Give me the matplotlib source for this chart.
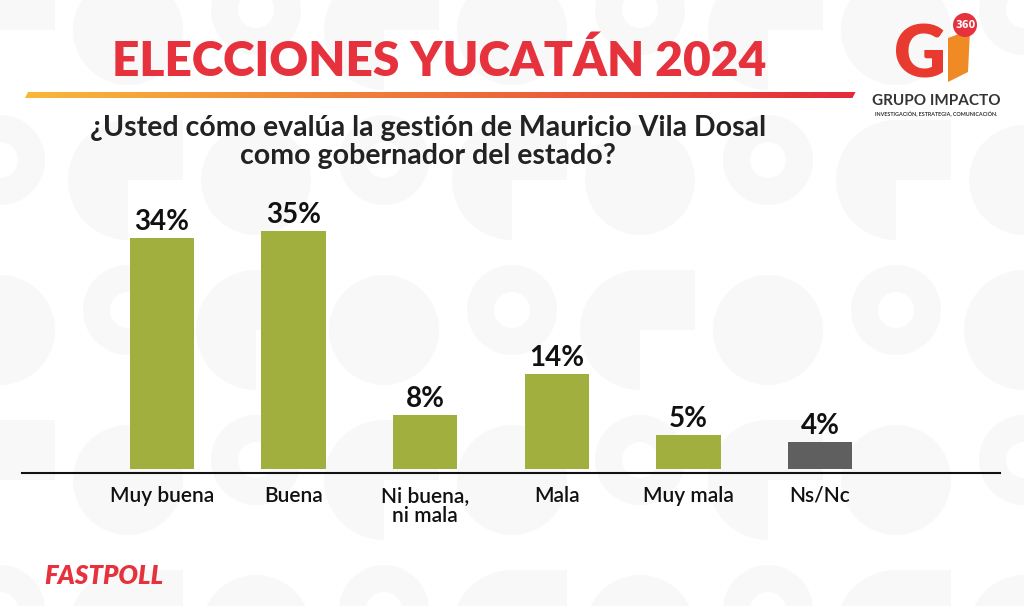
import matplotlib
matplotlib.use("Agg")
import matplotlib.pyplot as plt
import numpy as np
from matplotlib.patches import Polygon, Circle, Rectangle, Wedge

categories = ["Muy buena", "Buena", "Ni buena,\nni mala", "Mala", "Muy mala", "Ns/Nc"]
values = [34, 35, 8, 14, 5, 4]
value_labels = ["34%", "35%", "8%", "14%", "5%", "4%"]
bar_colors = ["#A1AF3E", "#A1AF3E", "#A1AF3E", "#A1AF3E", "#A1AF3E", "#5F5F5F"]

title = "ELECCIONES YUCATÁN 2024"
subtitle = "¿Usted cómo evalúa la gestión de Mauricio Vila Dosal\ncomo gobernador del estado?"
footer = "FASTPOLL"

W, H = 1024, 606
fig = plt.figure(figsize=(W / 100, H / 100), dpi=100)
fig.patch.set_facecolor("white")

# background layer (pixel coordinates)
bg = fig.add_axes([0, 0, 1, 1])
bg.set_xlim(0, W)
bg.set_ylim(H, 0)
bg.axis("off")
pat = "#F8F8F8"
k = 0
for cx in range(-60, W + 100, 128):
    for cy in range(-40, H + 100, 150):
        k += 1
        if k % 3 == 0:
            bg.add_patch(Circle((cx + 60, cy + 70), 55, color=pat, lw=0))
        elif k % 3 == 1:
            bg.add_patch(Wedge((cx + 60, cy + 70), 60, 90, 270, color=pat, lw=0))
            bg.add_patch(Rectangle((cx + 60, cy + 10), 55, 60, color=pat, lw=0))
        else:
            bg.add_patch(Circle((cx + 60, cy + 50), 45, color=pat, lw=0))
            bg.add_patch(Circle((cx + 60, cy + 50), 18, color="white", lw=0))

# gradient underline
n = 200
x0, x1 = 25, 852
ys, ye = 92, 98
for i in range(n):
    t = i / (n - 1)
    c = (np.array([0.97, 0.72, 0.22]) * (1 - t) + np.array([0.89, 0.16, 0.22]) * t)
    xa = x0 + (x1 - x0) * i / n
    xb = x0 + (x1 - x0) * (i + 1) / n + 0.5
    bg.add_patch(Polygon([(xa + 3, ys), (xb + 3, ys), (xb, ye), (xa, ye)], closed=True, color=c, lw=0))

# title
bg.text(439, 62, title, ha="center", va="center", fontsize=34.5, fontweight="heavy",
        color="#E5323D", family="Lato")
# subtitle
bg.text(428, 142, subtitle, ha="center", va="center", fontsize=20.5, fontweight="bold",
        color="#222222", family="Lato", linespacing=1.08)
# footer
bg.text(44, 576, footer, ha="left", va="center", fontsize=18.5, fontweight="heavy",
        style="italic", color="#E5323D", family="Lato")

# logo
bg.add_patch(Polygon([(948, 38), (970, 30), (968, 72), (948, 82)], closed=True, color="#F08A24", lw=0))
bg.add_patch(Circle((965, 25), 12, color="#E5323D", lw=0))
bg.text(965, 25, "360", ha="center", va="center", fontsize=7, fontweight="bold", color="white")
bg.text(920, 57, "G", ha="center", va="center", fontsize=52, fontweight="heavy",
        color="#E83A2F", family="Lato")
bg.text(936, 101, "GRUPO IMPACTO", ha="center", va="center", fontsize=11, fontweight="bold",
        color="#333333", family="Lato")
bg.text(936, 113, "INVESTIGACIÓN, ESTRATEGIA, COMUNICACIÓN.", ha="center", va="center",
        fontsize=3.9, fontweight="bold", color="#333333", family="Lato")

# chart axes
step = 131.6
left_px, right_px = 22, 1000
base_px = 469
xlo = (left_px - 162) / step
xhi = (right_px - 162) / step
ytop = 40
ax_h_px = 272
ax = fig.add_axes([left_px / W, (H - base_px) / H, (right_px - left_px) / W, ax_h_px / H])
ax.patch.set_alpha(0)
x = np.arange(len(categories))
ax.bar(x, values, width=0.49, color=bar_colors, zorder=3)
ax.set_xlim(xlo, xhi)
ax.set_ylim(0, ytop)
for s in ["top", "right", "left"]:
    ax.spines[s].set_visible(False)
ax.spines["bottom"].set_position(("outward", 3))
ax.spines["bottom"].set_linewidth(1.5)
ax.spines["bottom"].set_color("#111111")
ax.set_yticks([])
ax.set_xticks(x)
ax.set_xticklabels(categories, fontsize=15, color="#111111", family="Lato", fontweight="semibold",
                   linespacing=1.0)
ax.tick_params(axis="x", length=0, pad=9)
for xi, v, lab in zip(x, values, value_labels):
    ax.annotate(lab, (xi, v), xytext=(0, 2), textcoords="offset points", ha="center", va="bottom",
                fontsize=20, fontweight="bold", color="#111111", family="Lato")

fig.savefig("out.png", dpi=100)
